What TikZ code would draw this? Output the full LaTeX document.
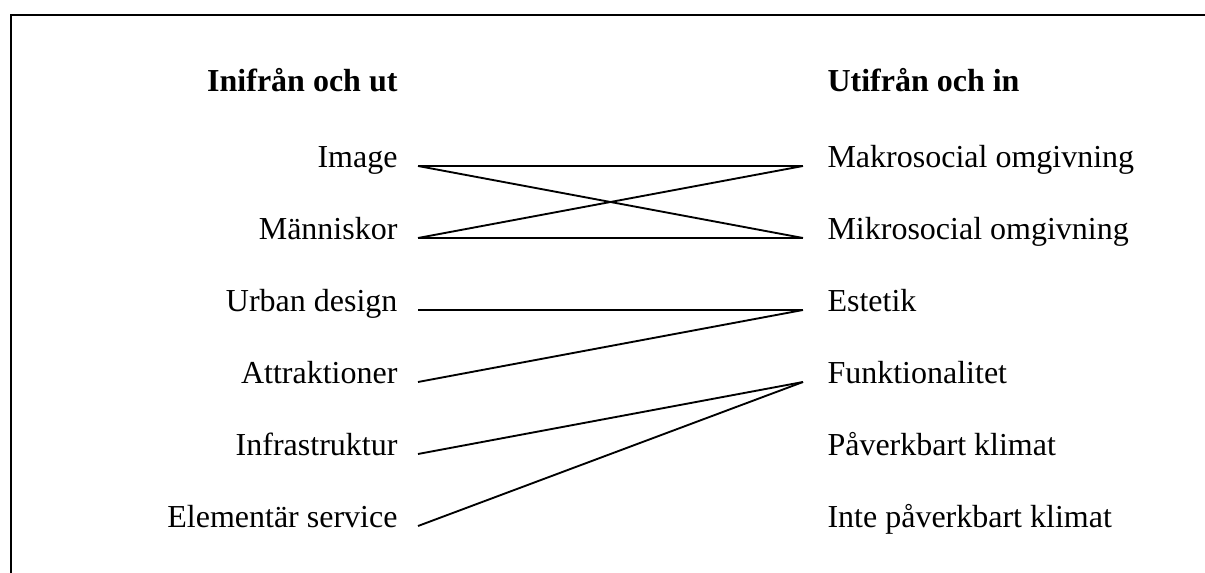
\documentclass[tikz,border=0pt]{standalone}
\usepackage{fontspec}
\setmainfont{Liberation Serif}
\tikzset{
  item/.style={font=\fontsize{12}{14}\selectfont, inner sep=0pt},
  head/.style={item, font=\fontsize{12}{14}\selectfont\bfseries},
  link/.style={line width=0.7pt},
}
\begin{document}
\begin{tikzpicture}[x=0.375pt, y=-0.375pt]
        \useasboundingbox (0,0) rectangle (1205,573);
        % Draw the frame
        \draw[line width=1pt] (11,573) -- (11,15) -- (1205,15);

        % Column headings
        \node[head, anchor=base east] (lhead) at (398,92) {Inifrån och ut};
        \node[head, anchor=base west] (rhead) at (827,92) {Utifrån och in};

        % Left column
        \foreach \i/\txt in {1/Image, 2/Människor, 3/Urban design, 4/Attraktioner, 5/Infrastruktur, 6/Elementär service} {
            \node[item, anchor=base east] (l\i) at (398,96+72*\i) {\txt};
            \coordinate (la\i) at ([shift={(20,-2)}]l\i.base east); % line start
        };

        % Right column
        \foreach \i/\txt in {1/Makrosocial omgivning, 2/Mikrosocial omgivning, 3/Estetik, 4/Funktionalitet, 5/Påverkbart klimat, 6/Inte påverkbart klimat} {
            \node[item, anchor=base west] (r\i) at (827,96+72*\i) {\txt};
            \coordinate (ra\i) at ([shift={(-24,-2)}]r\i.base west); % line end
        };

        % Links
        \foreach \a/\b in {1/1, 1/2, 2/1, 2/2, 3/3, 4/3, 5/4, 6/4} {
            \draw[link] (la\a) -- (ra\b);
        };
    \end{tikzpicture}
\end{document}
